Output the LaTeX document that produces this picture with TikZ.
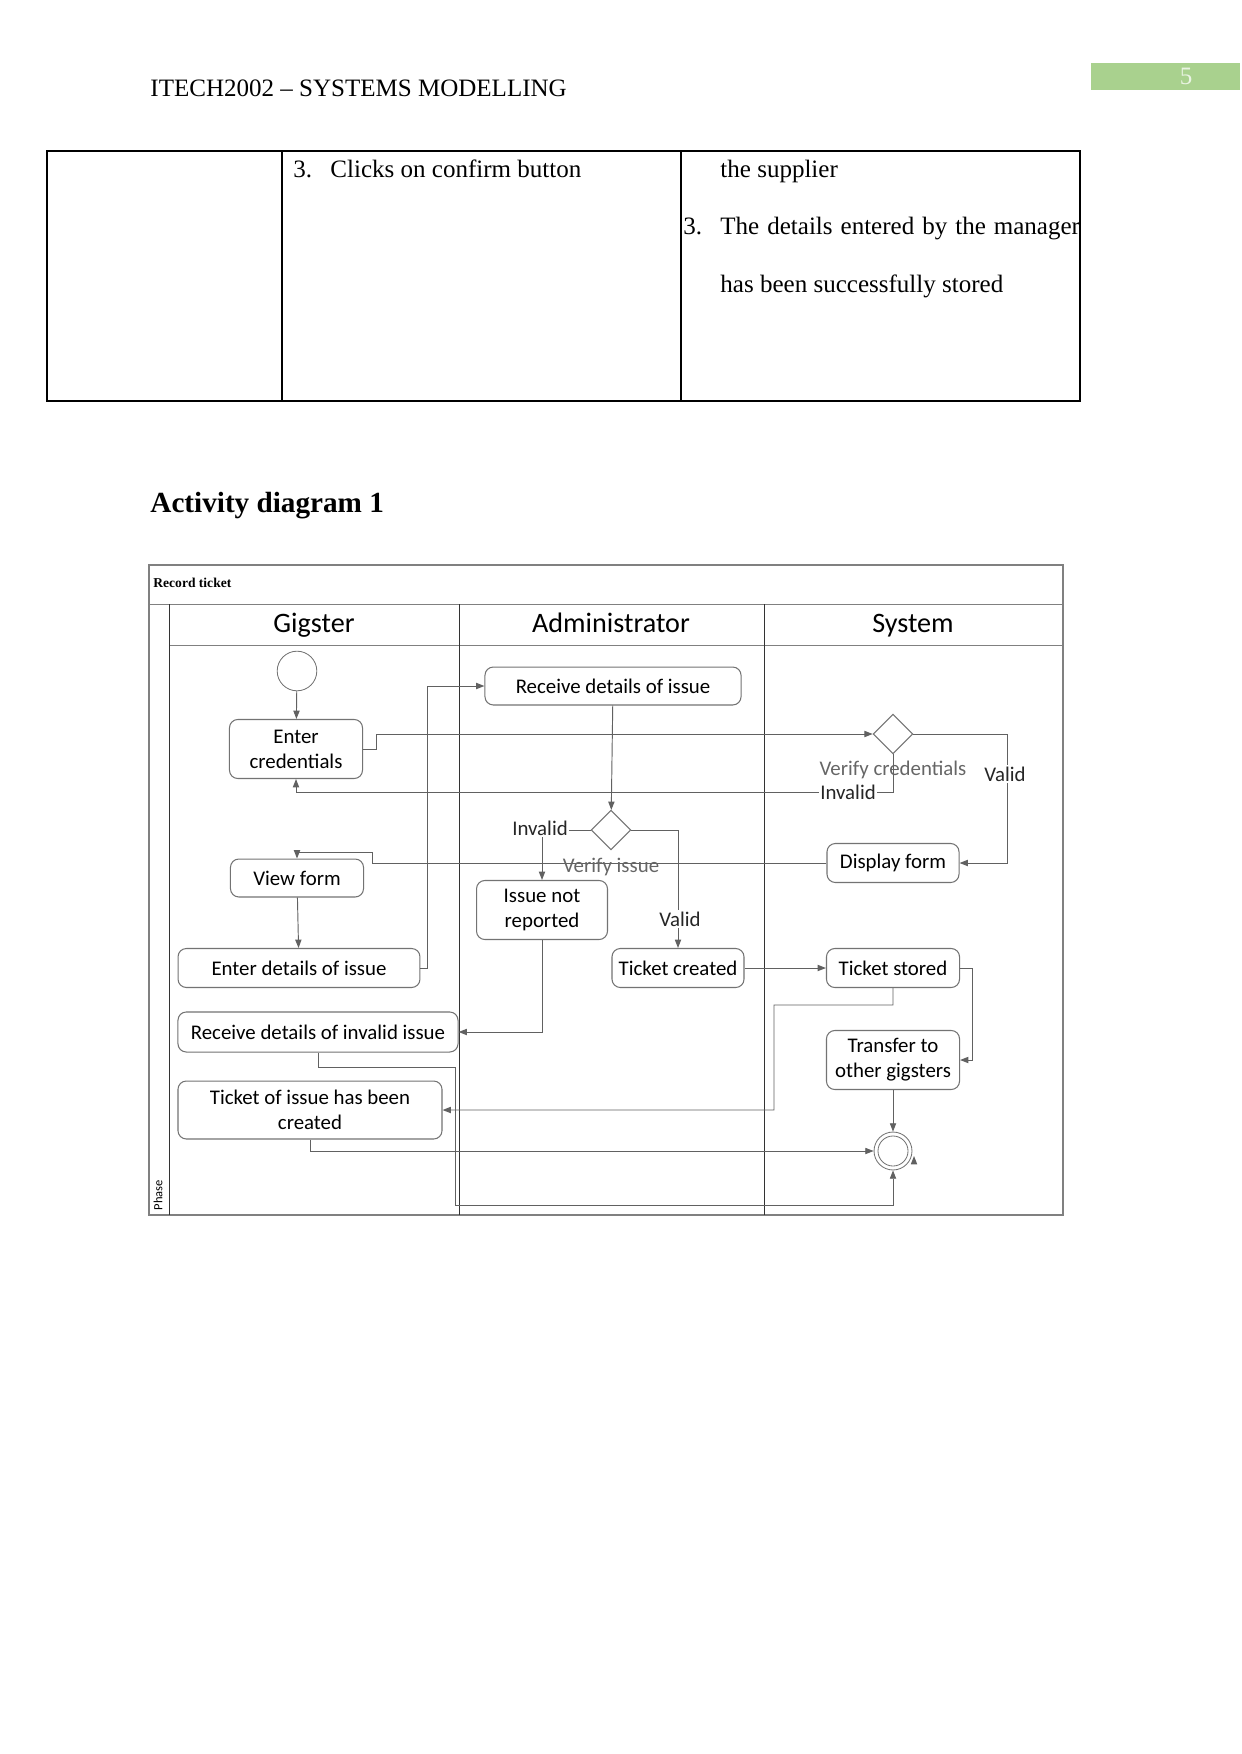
\documentclass[tikz,border=0pt]{standalone}
\usepackage{fontspec}
\setmainfont{Liberation Serif}
\newfontfamily\carlito{Carlito}
\usepackage{xcolor}
\usetikzlibrary{arrows.meta,calc,shapes.geometric}
\definecolor{pagegreen}{HTML}{A9D18E}
\definecolor{lanegray}{HTML}{808080}

\begin{document}
\begin{tikzpicture}[x=0.4795pt, y=-0.4795pt,
    act/.style={draw=black!55, rounded corners=4pt, fill=white, align=center, inner sep=0pt,
      font=\carlito\fontsize{10}{12}\selectfont, line width=0.5pt},
    dec/.style={diamond, draw=black!55, fill=white, minimum size=19pt, inner sep=0pt, line width=0.5pt},
    arr/.style={-{Triangle[length=4pt,width=3pt]}, line width=0.45pt, draw=black!62},
    guard/.style={font=\carlito\fontsize{10}{12}\selectfont, text=black!85, fill=white, inner sep=0.6pt},
    dname/.style={font=\carlito\fontsize{10}{12}\selectfont, text=black!60, inner sep=0pt},
    lane/.style={font=\carlito\fontsize{13.5}{16}\selectfont, inner sep=0pt, anchor=base},
    txt/.style={anchor=west, inner sep=0pt, text height=8.2pt, text depth=2.6pt,
      font=\fontsize{12}{14}\selectfont}]
\useasboundingbox (0,0) rectangle (1241,1754);

% page head and table
\node[txt] (hdr) at (150,91) {ITECH2002 – SYSTEMS MODELLING};
\fill[pagegreen] (1091,63) rectangle (1240,90);
\node[font=\fontsize{12}{14}\selectfont, text=white!75!pagegreen, inner sep=0pt] (pg) at (1186,76) {5};
\draw[line width=1pt] (47,151) rectangle (1080,401);
\draw[line width=1pt] (282,151) -- (282,401) (681,151) -- (681,401);
\node[txt] (n3a) at (293,172) {3.};
\node[txt] (c3a) at (330,172) {Clicks on confirm button};
\node[txt] (c3b) at (720,172) {the supplier};
\node[txt] (n3b) at (683,229) {3.};
\node[txt] (c3c) at (720,229) {\makebox[172.4pt][s]{The details entered by the manager}};
\node[txt] (c3d) at (720,287) {has been successfully stored};
\node[txt, font=\bfseries\fontsize{14}{17}\selectfont] (ttl) at (150,507) {Activity diagram 1};

% swimlanes
\draw[lanegray, line width=0.6pt] (149,565) rectangle (1063,1215);
\draw[lanegray] (149,604) -- (1063,604) (169,645) -- (1063,645);
\draw[black!80] (169,604) -- (169,1215) (459,604) -- (459,1215) (764,604) -- (764,1215);
\node[anchor=west, inner sep=0pt, font=\bfseries\fontsize{6.5}{8}\selectfont] (rec) at (153,583) {Record ticket};
\node[rotate=90, font=\carlito\fontsize{6}{7}\selectfont, inner sep=0pt] (ph) at (158,1195) {Phase};
\node[lane] (lgig) at (314,632) {Gigster};
\node[lane] (ladm) at (611,632) {Administrator};
\node[lane] (lsys) at (913,632) {System};

% activities
\node[circle, draw=black!55, minimum size=19pt, inner sep=0pt] (st) at (297,671) {};
\node[act, minimum width=63.8pt, minimum height=28.3pt] (ecred) at (296,749) {Enter\\credentials};
\node[act, minimum width=122.8pt, minimum height=18.2pt] (rdet) at (613,686) {Receive details of issue};
\node[dec] (vcred) at (893,734) {};
\node[dec] (vis) at (611,830) {};
\node[act, minimum width=63.8pt, minimum height=18.2pt] (view) at (297,878) {View form};
\node[act, minimum width=63.3pt, minimum height=18.7pt] (disp) at (893,863) {Display form};
\node[act, minimum width=62.8pt, minimum height=28.3pt] (inr) at (542,910) {Issue not\\reported};
\node[act, minimum width=116pt, minimum height=18.7pt] (edet) at (299,968) {Enter details of issue};
\node[act, minimum width=63.3pt, minimum height=18.7pt] (tcre) at (678,968) {Ticket created};
\node[act, minimum width=63.8pt, minimum height=18.7pt] (tsto) at (893,968) {Ticket stored};
\node[act, minimum width=134.3pt, minimum height=19.2pt] (rinv) at (318,1032) {Receive details of invalid issue};
\node[act, minimum width=63.8pt, minimum height=28.3pt] (tran) at (893,1060) {Transfer to\\other gigsters};
\node[act, minimum width=126.6pt, minimum height=27.8pt] (tiss) at (310,1110) {Ticket of issue has been\\created};
\node[circle, draw=black!55, minimum size=18.2pt, inner sep=0pt] (fin) at (893,1151) {};
\draw[black!55] (fin.center) circle (7.2pt);

% flows
\draw[arr] (st) -- (ecred);
\draw[arr] (ecred.east) -- ++(13,0) |- (vcred.west);
\draw[arr] (vcred.south) -- ++(0,38) -| (ecred.south);
\draw[arr] (vcred.east) -- ++(94,0) |- (disp.east);
\draw[arr] (disp.west) -- (372,863) -- (372,852) -| (view.north);
\draw[arr] (view) -- (edet);
\draw[arr] (edet.east) -- ++(7,0) |- (rdet.west);
\draw[arr] (rdet) -- (vis);
\draw[arr] (vis.west) -| (inr.north);
\draw[arr] (vis.east) -| (tcre.north);
\draw[arr] (inr.south) |- (rinv.east);
\draw[arr] (tcre) -- (tsto);
\draw[arr] (tsto.east) -- ++(12,0) |- (tran.east);
\draw[arr] (tsto.south) -- ++(0,17) -- (774,1005) |- (tiss.east);
\draw[arr] (rinv.south) -- ++(0,15) -| (455,1205) -| (fin.south);
\draw[arr] (tiss.south) |- (fin.west);
\draw[arr] (tran) -- (fin);
\coordinate (fx) at (914,1162);
\draw[arr] (fx) -- ++(0,-6);

% guards
\node[dname] (lvc) at (893,770) {Verify credentials};
\node[guard] (linv1) at (848,792) {Invalid};
\node[guard] (lval1) at (1005,774) {Valid};
\node[dname] (lvi) at (611,867) {Verify issue};
\node[guard] (linv2) at (540,828) {Invalid};
\node[guard] (lval2) at (680,919) {Valid};
\end{tikzpicture}
\end{document}
